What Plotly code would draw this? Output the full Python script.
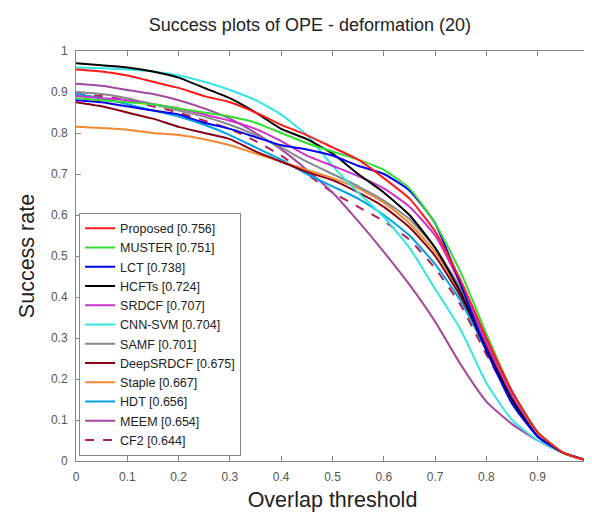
import plotly.graph_objects as go

thresholds = [round(0.05 * i, 2) for i in range(21)]

names = ["Proposed [0.756]", "MUSTER [0.751]", "LCT [0.738]", "HCFTs [0.724]",
         "SRDCF [0.707]", "CNN-SVM [0.704]", "SAMF [0.701]", "DeepSRDCF [0.675]",
         "Staple [0.667]", "HDT [0.656]", "MEEM [0.654]", "CF2 [0.644]"]

proposed = [0.955, 0.95, 0.94, 0.925, 0.91, 0.89, 0.875, 0.85, 0.82, 0.795, 0.765,
            0.735, 0.69, 0.64, 0.56, 0.44, 0.30, 0.17, 0.07, 0.02, 0.0]
muster = [0.885, 0.88, 0.875, 0.87, 0.86, 0.85, 0.84, 0.825, 0.80, 0.775, 0.755,
          0.735, 0.71, 0.665, 0.58, 0.46, 0.31, 0.17, 0.07, 0.02, 0.0]
lct = [0.88, 0.875, 0.865, 0.855, 0.845, 0.825, 0.81, 0.79, 0.77, 0.76, 0.745,
       0.72, 0.70, 0.66, 0.58, 0.43, 0.27, 0.14, 0.06, 0.02, 0.0]
hcfts = [0.97, 0.965, 0.96, 0.95, 0.935, 0.91, 0.885, 0.85, 0.81, 0.785, 0.75,
         0.70, 0.655, 0.60, 0.52, 0.41, 0.27, 0.15, 0.06, 0.02, 0.0]
srdcf = [0.89, 0.885, 0.88, 0.87, 0.86, 0.845, 0.83, 0.81, 0.78, 0.745, 0.72,
         0.695, 0.665, 0.62, 0.55, 0.43, 0.29, 0.16, 0.06, 0.02, 0.0]
cnnsvm = [0.96, 0.958, 0.955, 0.95, 0.94, 0.925, 0.905, 0.88, 0.845, 0.795, 0.72,
          0.655, 0.595, 0.52, 0.42, 0.32, 0.19, 0.10, 0.05, 0.02, 0.0]
samf = [0.90, 0.895, 0.885, 0.87, 0.855, 0.84, 0.82, 0.795, 0.765, 0.73, 0.70,
        0.67, 0.635, 0.59, 0.52, 0.42, 0.29, 0.16, 0.06, 0.02, 0.0]
deepsrdcf = [0.875, 0.865, 0.85, 0.835, 0.815, 0.80, 0.785, 0.755, 0.73, 0.705, 0.685,
             0.655, 0.62, 0.57, 0.50, 0.40, 0.28, 0.15, 0.06, 0.02, 0.0]
staple = [0.815, 0.812, 0.808, 0.80, 0.795, 0.785, 0.77, 0.75, 0.73, 0.71, 0.69,
          0.665, 0.63, 0.58, 0.51, 0.41, 0.29, 0.16, 0.07, 0.02, 0.0]
hdt = [0.895, 0.885, 0.87, 0.855, 0.84, 0.82, 0.795, 0.765, 0.735, 0.70, 0.67,
       0.64, 0.60, 0.55, 0.48, 0.39, 0.27, 0.15, 0.06, 0.02, 0.0]
meem = [0.92, 0.915, 0.905, 0.895, 0.88, 0.86, 0.835, 0.80, 0.76, 0.71, 0.655,
        0.585, 0.51, 0.43, 0.34, 0.235, 0.145, 0.09, 0.05, 0.02, 0.0]
cf2 = [0.895, 0.89, 0.88, 0.865, 0.85, 0.83, 0.81, 0.78, 0.745, 0.70, 0.655,
       0.62, 0.585, 0.54, 0.47, 0.38, 0.26, 0.15, 0.06, 0.02, 0.0]

series = [proposed, muster, lct, hcfts, srdcf, cnnsvm, samf, deepsrdcf, staple, hdt, meem, cf2]
colors = ["#ff1a1a", "#33dd33", "#0000ee", "#000000", "#cc33cc", "#33e5e5",
          "#888888", "#880015", "#f08a30", "#00a2e8", "#a349a4", "#b02050"]
dashes = ["solid"] * 11 + ["dash"]

tick_vals = [0, 0.1, 0.2, 0.3, 0.4, 0.5, 0.6, 0.7, 0.8, 0.9, 1]
tick_text = ["0", "0.1", "0.2", "0.3", "0.4", "0.5", "0.6", "0.7", "0.8", "0.9", "1"]

fig = go.Figure()
for name, vals, col, dsh in reversed(list(zip(names, series, colors, dashes))):
    fig.add_trace(go.Scatter(x=thresholds, y=vals, mode="lines", name=name,
                             line=dict(color=col, width=2, dash=dsh, shape="spline", smoothing=0.5)))

axis_common = dict(range=[0, 1], tickvals=tick_vals, ticktext=tick_text, ticks="inside",
                   ticklen=5, tickcolor="#888888", showline=True, linecolor="#888888",
                   linewidth=1, mirror="allticks", showgrid=False, zeroline=False,
                   ticklabelstandoff=5,
                   tickfont=dict(size=12, color="#555555"))

fig.update_layout(
    width=592, height=517,
    margin=dict(l=68, r=7, t=43, b=64),
    paper_bgcolor="white", plot_bgcolor="white",
    font=dict(family="Arial, Liberation Sans, sans-serif", color="#222222"),
    title=dict(text="Success plots of OPE - deformation (20)", x=0.51, xanchor="center",
               y=0.967, yanchor="middle", font=dict(size=18, color="#222222")),
    xaxis=dict(axis_common, title=dict(text="Overlap threshold", font=dict(size=21.5), standoff=8)),
    yaxis=dict(axis_common, title=dict(text="Success rate", font=dict(size=21.5), standoff=10)),
    legend=dict(x=0.006, y=0.606, xanchor="left", yanchor="top", traceorder="reversed",
                bgcolor="white", bordercolor="#888888", borderwidth=1,
                font=dict(size=12.5, color="#222222"), tracegroupgap=0),
)

fig.write_html("out.html")
